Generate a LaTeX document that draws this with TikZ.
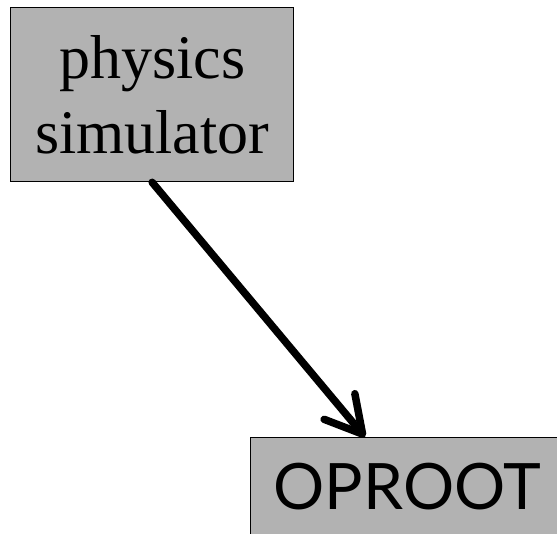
\documentclass[tikz,border=0pt]{standalone}
\usepackage{fontspec}
\setmainfont{Liberation Serif}
\newfontfamily\latofont{Lato}
\usetikzlibrary{arrows.meta,positioning}

\begin{document}
\begin{tikzpicture}[
  x=1pt, y=-1pt,
  b/.style={draw, line width=1.3pt, fill=black!30, inner sep=0pt},
  arr/.style={-{Straight Barb[length=36pt, width=40pt, line cap=round, line join=round]}, line width=7.5pt, line cap=round}
]
\useasboundingbox (0,0) rectangle (557,533);
\clip (0,0) rectangle (557,533);
\node[b, anchor=north west, minimum width=283pt, minimum height=174pt, align=center,
  font=\fontsize{62}{75}\selectfont] (sim) at (10,7) {physics\\simulator};
\node[b, anchor=north west, text width=300pt, inner xsep=23pt, inner ysep=25pt,
  align=left, font=\latofont\fontsize{64}{76}\selectfont] (root) at (250,437) {OPROOT};
\draw[arr] (sim.south) -- ([xshift=115pt]root.north west);
\end{tikzpicture}
\end{document}
